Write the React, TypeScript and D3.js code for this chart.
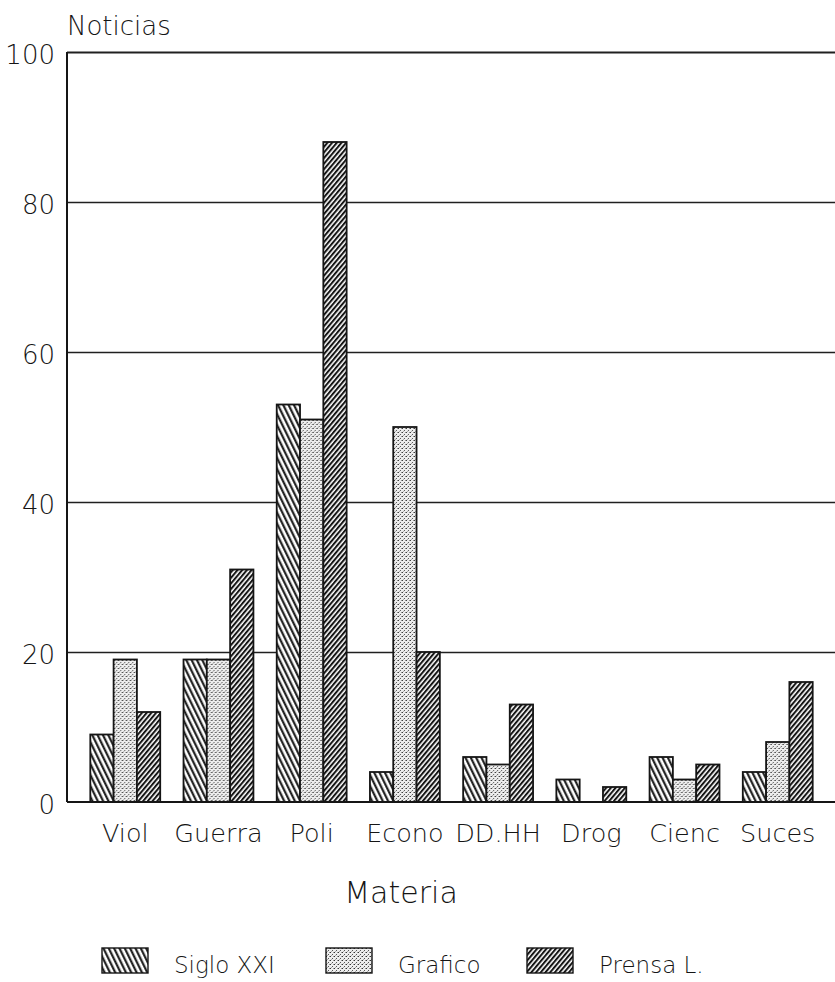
import * as React from "react";
import * as d3 from "d3";

const categories = ["Viol", "Guerra", "Poli", "Econo", "DD.HH", "Drog", "Cienc", "Suces"];
const seriesNames = ["Siglo XXI", "Grafico", "Prensa L."];
const sigloXXI = [9, 19, 53, 4, 6, 3, 6, 4];
const grafico = [19, 19, 51, 50, 5, 0, 3, 8];
const prensaL = [12, 31, 88, 20, 13, 2, 5, 16];
const yTicks = [0, 20, 40, 60, 80, 100];

const WIDTH = 835;
const HEIGHT = 982;
const FONT = "'DejaVu Sans', 'Liberation Sans', sans-serif";
const INK = "#151515";

const patternIds = ["pat-siglo", "pat-grafico", "pat-prensa"];

export default function App() {
  const seriesValues = [sigloXXI, grafico, prensaL];

  const margin = { top: 52, left: 67, bottom: 802, right: 836 };

  const x = React.useMemo(
    () =>
      d3.scaleBand<string>()
        .domain(categories)
        .range([margin.left, margin.right])
        .paddingInner(0.25)
        .paddingOuter(0.25),
    []
  );

  const xInner = React.useMemo(
    () => d3.scaleBand<string>().domain(seriesNames).range([0, x.bandwidth()]).padding(0),
    [x]
  );

  const y = React.useMemo(
    () => d3.scaleLinear().domain([0, 100]).range([margin.bottom, margin.top]),
    []
  );

  const legendX = [102, 326, 527];

  return (
    <div style={{ position: "absolute", left: 0, top: 0 }}>
      <svg width={WIDTH} height={HEIGHT} style={{ display: "block", background: "#fff" }} fontFamily={FONT} fontWeight={200}>
        <defs>
          <pattern
            id="pat-siglo"
            patternUnits="userSpaceOnUse"
            width={4.8}
            height={10}
            patternTransform="rotate(-26)"
          >
            <rect width={4.8} height={10} fill="#fff" />
            <line x1={1.2} y1={0} x2={1.2} y2={10} stroke={INK} strokeWidth={2.1} />
          </pattern>
          <pattern id="pat-grafico" patternUnits="userSpaceOnUse" width={4} height={4}>
            <rect width={4} height={4} fill="#eeeeee" />
            <rect x={0} y={0} width={1} height={1} fill="#333" />
            <rect x={2} y={2} width={1} height={1} fill="#555" />
            <rect x={3} y={0} width={1} height={1} fill="#999" />
            <rect x={1} y={3} width={1} height={1} fill="#aaa" />
          </pattern>
          <pattern
            id="pat-prensa"
            patternUnits="userSpaceOnUse"
            width={3.6}
            height={10}
            patternTransform="rotate(40)"
          >
            <rect width={3.6} height={10} fill="#fff" />
            <line x1={1} y1={0} x2={1} y2={10} stroke={INK} strokeWidth={2.1} />
          </pattern>
        </defs>

        {/* gridlines */}
        {yTicks.filter((t) => t > 0).map((t) => (
          <line
            key={t}
            x1={margin.left}
            x2={WIDTH}
            y1={Math.round(y(t)) + 0.5}
            y2={Math.round(y(t)) + 0.5}
            stroke="#202020"
            strokeWidth={t === 100 ? 2 : 1.4}
          />
        ))}

        {/* bars */}
        {categories.map((cat, ci) => (
          <g key={cat} transform={`translate(${x(cat)},0)`}>
            {seriesNames.map((s, si) => {
              const v = seriesValues[si][ci];
              if (!v) return null;
              return (
                <rect
                  key={s}
                  x={xInner(s)}
                  y={y(v)}
                  width={xInner.bandwidth()}
                  height={y(0) - y(v)}
                  fill={`url(#${patternIds[si]})`}
                  stroke={INK}
                  strokeWidth={1.8}
                />
              );
            })}
          </g>
        ))}

        {/* axes */}
        <line x1={margin.left} x2={margin.left} y1={y(100)} y2={y(0)} stroke={INK} strokeWidth={2} />
        <line x1={margin.left} x2={WIDTH} y1={y(0)} y2={y(0)} stroke={INK} strokeWidth={2} />

        {yTicks.map((t) => (
          <text
            key={t}
            x={55}
            y={y(t) + 3}
            textAnchor="end"
            dominantBaseline="central"
            fontSize={26}
            fill={INK}
          >
            {t}
          </text>
        ))}

        <text x={67} y={35} fontSize={26} fill={INK}>
          Noticias
        </text>

        {categories.map((cat) => (
          <text
            key={cat}
            x={(x(cat) ?? 0) + x.bandwidth() / 2}
            y={842}
            textAnchor="middle"
            fontSize={25.5}
            fill={INK}
          >
            {cat}
          </text>
        ))}

        <text x={401} y={903} textAnchor="middle" fontSize={30} fill={INK}>
          Materia
        </text>

        {seriesNames.map((s, si) => (
          <g key={s} transform={`translate(${legendX[si]},948)`}>
            <rect
              width={46}
              height={25}
              fill={`url(#${patternIds[si]})`}
              stroke={INK}
              strokeWidth={1.4}
            />
            <text x={72} y={25} fontSize={23} fill={INK}>
              {s}
            </text>
          </g>
        ))}
      </svg>
    </div>
  );
}
